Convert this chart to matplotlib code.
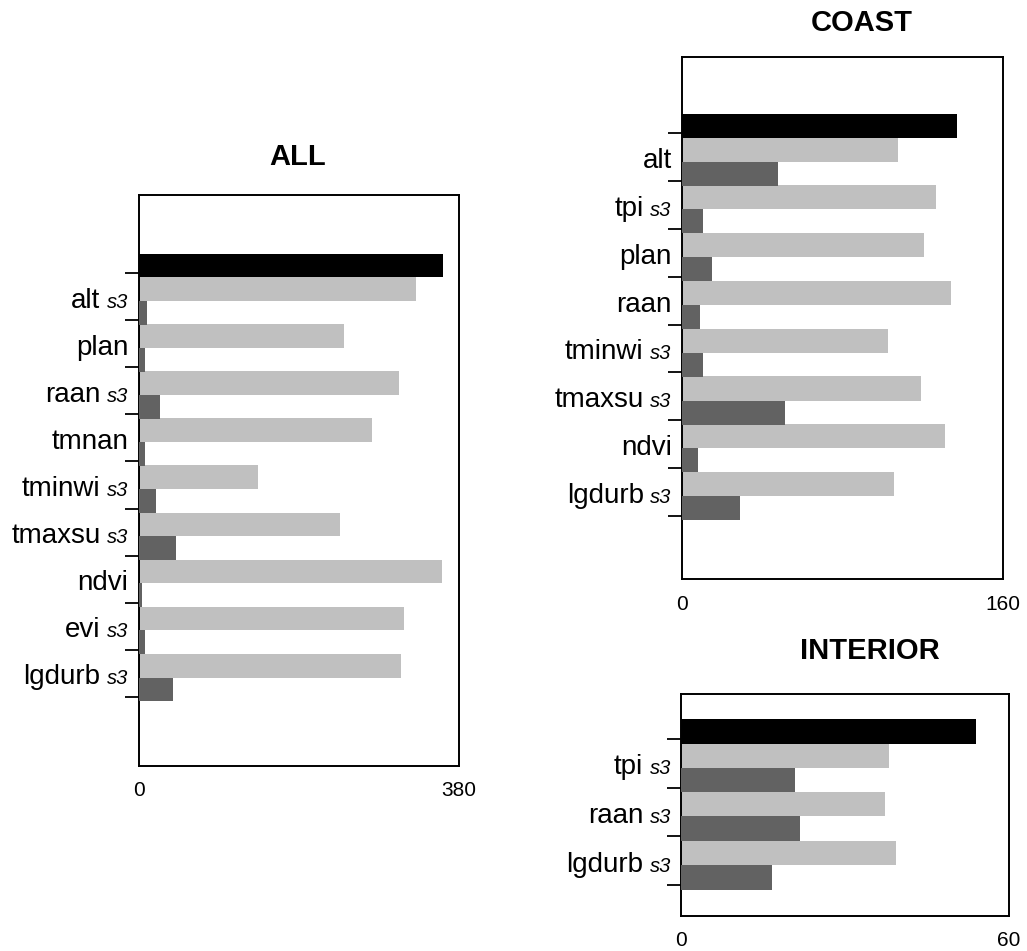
import matplotlib
matplotlib.use("Agg")
import matplotlib.pyplot as plt

plt.rcParams['font.family'] = ['Liberation Sans', 'DejaVu Sans']

# ---- values: full model (black), variable left out (light), variable alone (dark)
all_vars = ['alt', 'plan', 'raan', 'tmnan', 'tminwi', 'tmaxsu', 'ndvi', 'evi', 'lgdurb']
all_s3 = [True, False, True, False, True, True, False, True, True]
all_full = 361
all_light = [329, 244, 309, 277, 142, 239, 360, 315, 312]
all_dark = [10, 7.5, 25, 7.5, 21, 44, 4.5, 8, 41.5]
all_max = 380

coast_vars = ['alt', 'tpi', 'plan', 'raan', 'tminwi', 'tmaxsu', 'ndvi', 'lgdurb']
coast_s3 = [False, True, False, False, True, True, False, True]
coast_full = 137
coast_light = [107.5, 126.5, 120.5, 134, 102.5, 119, 131, 105.5]
coast_dark = [48, 10.5, 15, 9, 10.5, 51.5, 8, 29]
coast_max = 160

interior_vars = ['tpi', 'raan', 'lgdurb']
interior_s3 = [True, True, True]
interior_full = 54
interior_light = [38, 37.4, 39.4]
interior_dark = [20.8, 21.7, 16.7]
interior_max = 60

LIGHT = '#c0c0c0'
DARK = '#626262'
W, H = 1027, 951


def draw_panel(ax, names, s3, full, light, dark, xmax, ylim):
    n = len(names)
    h = 0.505
    # slot 1 = upper half of a band, slot 2 = lower half
    ax.barh(0 + 0.8425, full, height=h, color='black', zorder=3)
    for k in range(1, n + 1):
        ax.barh(k + 0.3375, light[k - 1], height=h, color=LIGHT, zorder=2)
        ax.barh(k + 0.8425, dark[k - 1], height=h, color=DARK, zorder=3)

    ax.set_xlim(0, xmax)
    ax.set_ylim(ylim[1], ylim[0])
    ax.set_xticks([0, xmax])
    ax.set_xticklabels(['0', str(xmax)], fontsize=15)
    ax.tick_params(axis='x', length=0, pad=11)
    ax.set_yticks(range(1, n + 2))
    ax.set_yticklabels([])
    ax.tick_params(axis='y', direction='out', length=10, width=1.3)
    for sp in ax.spines.values():
        sp.set_linewidth(1.4)

    for k, (name, has_s3) in enumerate(zip(names, s3), start=1):
        y = k + 0.585
        if has_s3:
            ax.annotate('s3', xy=(0, y), xycoords=('axes fraction', 'data'),
                        xytext=(-10, -7), textcoords='offset pixels',
                        ha='right', va='baseline', fontsize=14.5, style='italic')
            ax.annotate(name, xy=(0, y), xycoords=('axes fraction', 'data'),
                        xytext=(-38, -7), textcoords='offset pixels',
                        ha='right', va='baseline', fontsize=20)
        else:
            ax.annotate(name, xy=(0, y), xycoords=('axes fraction', 'data'),
                        xytext=(-10, -7), textcoords='offset pixels',
                        ha='right', va='baseline', fontsize=20)


fig = plt.figure(figsize=(W / 100, H / 100), dpi=100)


def add_axes(left, top, right, bottom):
    return fig.add_axes([left / W, 1 - bottom / H, (right - left) / W, (bottom - top) / H])


ax_all = add_axes(138.5, 195, 458.5, 766)
ax_coast = add_axes(681.7, 57.3, 1003.3, 579.3)
ax_int = add_axes(681.3, 694, 1008.7, 915.7)

draw_panel(ax_all, all_vars, all_s3, all_full, all_light, all_dark, all_max, (-0.656, 11.467))
draw_panel(ax_coast, coast_vars, coast_s3, coast_full, coast_light, coast_dark, coast_max, (-0.59, 10.33))
draw_panel(ax_int, interior_vars, interior_s3, interior_full, interior_light, interior_dark,
           interior_max, (0.076, 4.628))

for txt, x, y in [('ALL', 298, 157), ('COAST', 862, 23), ('INTERIOR', 870, 651)]:
    fig.text(x / W, 1 - y / H, txt, ha='center', va='center', fontsize=21, fontweight='bold')

fig.savefig('out.png', dpi=100)
